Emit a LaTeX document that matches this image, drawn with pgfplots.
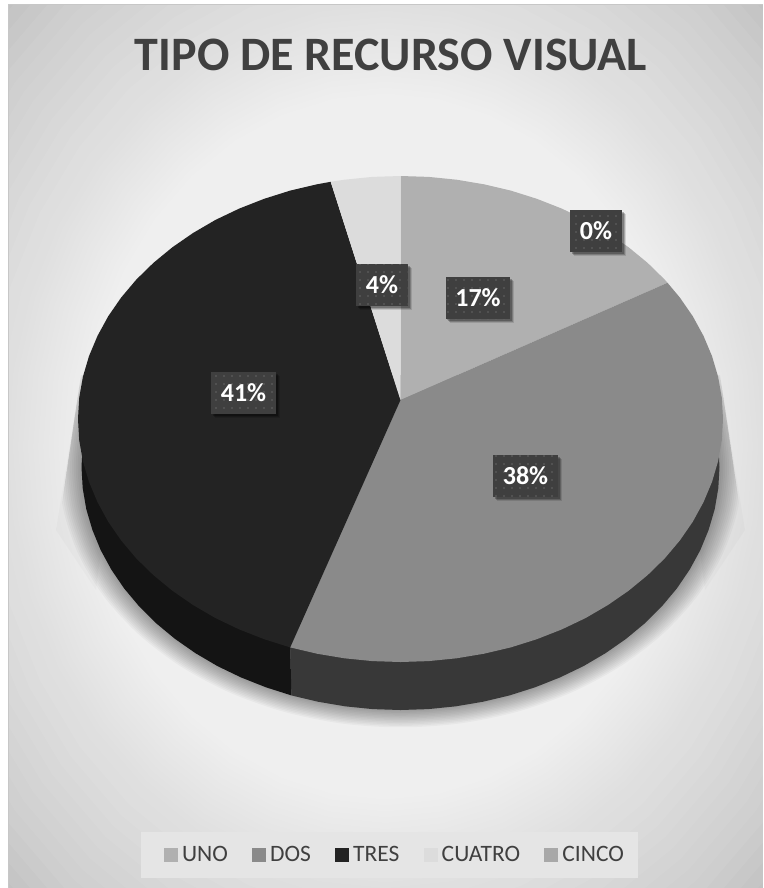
\documentclass[border=0pt]{standalone}
\usepackage{fontspec}
\setmainfont{Carlito}
\usepackage{pgfplots}
\usepackage{pgfplotstable}
\pgfplotsset{compat=1.18}
\usetikzlibrary{patterns.meta,shadows}

\definecolor{cuno}{HTML}{B0B0B0}
\definecolor{cdos}{HTML}{8A8A8A}
\definecolor{ctres}{HTML}{232323}
\definecolor{ccuatro}{HTML}{DCDCDC}
\definecolor{ccinco}{HTML}{A8A8A8}
\definecolor{walldos}{HTML}{383838}
\definecolor{walltres}{HTML}{141414}
\definecolor{txt}{HTML}{404040}
\definecolor{lbl}{HTML}{3F3F3F}
\definecolor{bge}{HTML}{C2C2C2}

% unit ring for the background glow and the soft shadow under the pie
\pgfplotstableread{
s c
0 1
.1736 .9848
.3420 .9397
.5 .8660
.6428 .7660
.7660 .6428
.8660 .5
.9397 .3420
.9848 .1736
1 0
.9848 -.1736
.9397 -.3420
.8660 -.5
.7660 -.6428
.6428 -.7660
.5 -.8660
.3420 -.9397
.1736 -.9848
0 -1
-.1736 -.9848
-.3420 -.9397
-.5 -.8660
-.6428 -.7660
-.7660 -.6428
-.8660 -.5
-.9397 -.3420
-.9848 -.1736
-1 0
-.9848 .1736
-.9397 .3420
-.8660 .5
-.7660 .6428
-.6428 .7660
-.5 .8660
-.3420 .9397
-.1736 .9848
}\ringtable

\begin{document}
\begin{tikzpicture}
\begin{axis}[
  scale only axis,width=763pt,height=888pt,
  xmin=0,xmax=763,ymin=0,ymax=888,y dir=reverse,
  hide axis,
  title={TIPO DE RECURSO VISUAL},
  title style={at={(axis description cs:0.5125,0.931)},anchor=center,font=\fontsize{48}{50}\selectfont\bfseries,text=txt},
  legend columns=5,
  legend image code/.code={\fill[#1] (0pt,-7pt) rectangle (14pt,7pt);},
  legend style={at={(axis description cs:0.5177,0.0372)},anchor=center,draw=none,fill=none,
    font=\fontsize{23.5}{26}\selectfont,text=txt,inner xsep=18pt,inner ysep=12pt,
    /tikz/every odd column/.style={column sep=2pt},
    /tikz/every even column/.style={column sep=22.25pt}},
]
% chart area: grey base, then stacked pale ellipses for the glow
\addplot[forget plot,draw=none,fill=bge] coordinates {(0,0) (763,0) (763,888) (0,888)} -- cycle;
\pgfplotsinvokeforeach{1.41,1.378,1.346,1.314,1.282,1.25,1.218,1.186,1.154,1.122,1.09,1.058,1.026,1.0,.987,.973,.96,.947,.933,.92,.907,.893,.88,.867,.853,.84,.827,.813,.8,.789,.778,.767,.756,.745,.734,.723,.712,.701,.69,.679,.668,.657,.646,.635,.624,.613,.6,.554,.508,.462,.416,.37,.324,.278,.232,.186,.14,.094,.048}{
  \addplot[forget plot,draw=none,fill=white,opacity=.06] table[x expr={385.5+377.5*#1*\thisrow{s}},y expr={446.5-441.5*#1*\thisrow{c}}] {\ringtable} -- cycle;
}
\addplot[forget plot,draw=none,fill=white] coordinates {(0,0) (8,0) (8,888) (0,888)} -- cycle;
\addplot[forget plot,draw=none,fill=white] coordinates {(0,0) (763,0) (763,5) (0,5)} -- cycle;
\addplot[forget plot,draw=black!22,line width=1pt] coordinates {(8,888) (8,5) (763,5)};

% legend panel
\addplot[forget plot,draw=none,fill=black!10] coordinates {(141,832) (638,832) (638,878) (141,878)} -- cycle;

% shadow under the pie
\addplot[forget plot,draw=none,fill=black,opacity=.02] coordinates {(81,375) (56,530) (96,590) (120,400)} -- cycle;
\addplot[forget plot,draw=none,fill=black,opacity=.02] coordinates {(720,375) (745,530) (705,590) (680,400)} -- cycle;
\begin{scope}
\clip (axis cs:81,375) -- (axis cs:56,543) -- (axis cs:56,727) -- (axis cs:745,727) -- (axis cs:745,543) -- (axis cs:720,375) -- cycle;
\pgfplotsinvokeforeach{12,11,...,0}{
  \addplot[forget plot,draw=none,fill=black,opacity=.032,smooth] table[x expr={400.5+(319+1.9*#1)*\thisrow{s}},y expr={467-(243+1.45*#1)*\thisrow{c}}] {\ringtable} -- cycle;
}
\end{scope}

% side walls
\addplot[forget plot,draw=none,fill=walldos] coordinates {
(714.7,424.8) (718.3,445.8) (719.5,467) (718.3,488.2) (714.7,509.2) (708.6,529.9) (700.3,550.1) (689.6,569.7) (676.8,588.5) (661.8,606.4) (644.9,623.2) (626.1,638.8) (605.6,653.1) (583.5,666.1) (560.0,677.4) (535.3,687.2) (509.6,695.4) (483.1,701.7) (455.9,706.3) (428.3,709.1) (400.5,710) (372.7,709.1) (345.1,706.3) (317.9,701.7) (291.4,695.4) (290.2,647.4)
} -- cycle;
\addplot[forget plot,draw=none,fill=walltres] coordinates {
(291.4,695.4) (265.7,687.2) (241.0,677.4) (217.5,666.1) (195.4,653.1) (174.9,638.8) (156.1,623.2) (139.2,606.4) (124.2,588.5) (111.4,569.7) (100.7,550.1) (92.4,529.9) (86.3,509.2) (82.7,488.2) (81.5,467) (82.7,445.8) (86.3,424.8) (290.2,647.4)
} -- cycle;

% top faces: 17, 38, 41, 4, 0 percent
\addplot[draw=none,fill=cuno] coordinates {
(400.5,400) (400.5,176) (428.6,176.9) (456.5,179.7) (484.0,184.3) (510.8,190.6) (536.8,198.8) (561.8,208.6) (585.5,219.9) (607.8,232.9) (628.5,247.2) (647.5,262.8) (664.7,279.6) (667.5,282.8)
} -- cycle;
\addlegendentry{UNO}
\addplot[draw=none,fill=cdos] coordinates {
(400.5,400) (667.5,282.8) (679.8,297.5) (692.8,316.3) (703.5,335.9) (712.0,356.1) (718.1,376.8) (721.8,397.8) (723,419) (721.8,440.2) (718.1,461.2) (712.0,481.9) (703.5,502.1) (692.8,521.7) (679.8,540.5) (664.7,558.4) (647.5,575.2) (628.5,590.8) (607.8,605.1) (585.5,618.1) (561.8,629.4) (536.8,639.2) (510.8,647.4) (484.0,653.7) (456.5,658.3) (428.6,661.1) (400.5,662) (372.4,661.1) (344.5,658.3) (317.0,653.7) (290.2,647.4)
} -- cycle;
\addlegendentry{DOS}
\addplot[draw=none,fill=ctres] coordinates {
(400.5,400) (290.2,647.4) (264.2,639.2) (239.2,629.4) (215.5,618.1) (193.2,605.1) (172.5,590.8) (153.5,575.2) (136.3,558.4) (121.2,540.5) (108.2,521.7) (97.5,502.1) (89.0,481.9) (82.9,461.2) (79.2,440.2) (78,419) (79.2,397.8) (82.9,376.8) (89.0,356.1) (97.5,335.9) (108.2,316.3) (121.2,297.5) (136.3,279.6) (153.5,262.8) (172.5,247.2) (193.2,232.9) (215.5,219.9) (239.2,208.6) (264.2,198.8) (290.2,190.6) (317.0,184.3) (330.7,181.8)
} -- cycle;
\addlegendentry{TRES}
\addplot[draw=none,fill=ccuatro] coordinates {
(400.5,400) (330.7,181.8) (344.5,179.7) (372.4,176.9) (400.5,176)
} -- cycle;
\addlegendentry{CUATRO}
\addplot[draw=none,fill=ccinco] coordinates {(400.5,176)};
\addlegendentry{CINCO}

% data labels
\addplot[forget plot,draw=none,point meta=explicit symbolic,
  nodes near coords,nodes near coords align=center,
  nodes near coords style={font=\fontsize{26}{28}\selectfont\bfseries,text=white,fill=lbl,
    inner xsep=9.5pt,inner ysep=0pt,minimum height=42pt,
    general shadow={shadow xshift=4pt,shadow yshift=-4pt,fill=black,opacity=.12},
    general shadow={shadow xshift=3pt,shadow yshift=-3pt,fill=black,opacity=.2},
    general shadow={shadow xshift=2pt,shadow yshift=-2pt,fill=black,opacity=.25},
    postaction={pattern={Dots[distance=8pt,radius=.8pt]},pattern color=white!20!lbl}},
] coordinates {
(478,298) [17\%]
(525.5,475.5) [38\%]
(243.5,392.5) [41\%]
(382,285) [4\%]
(596,231) [0\%]
};
\end{axis}
\pgfresetboundingbox
\path[use as bounding box] (current axis.south west) rectangle (current axis.north east);
\end{tikzpicture}
\end{document}
